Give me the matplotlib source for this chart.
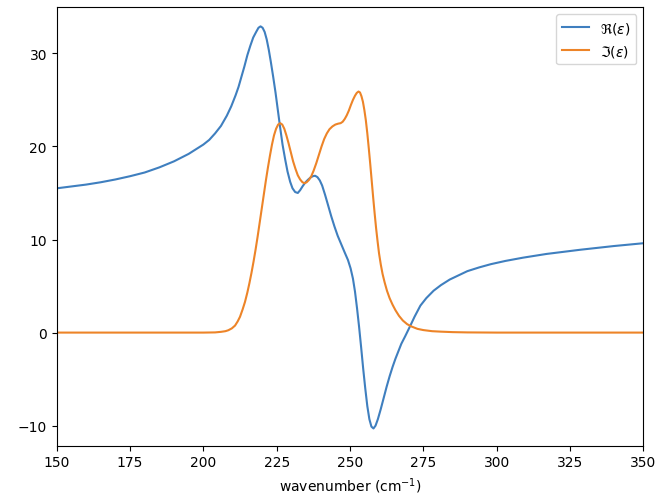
import matplotlib
matplotlib.use("Agg")
import matplotlib.pyplot as plt

re_pts = [
    (150, 15.5), (155, 15.7), (160, 15.9), (165, 16.15), (170, 16.45),
    (175, 16.8), (180, 17.2), (185, 17.75), (190, 18.4), (195, 19.2),
    (200, 20.2), (202, 20.7), (204, 21.4), (206, 22.2), (208, 23.3),
    (209.5, 24.3), (211, 25.5), (212, 26.4), (213, 27.5), (214, 28.6),
    (215, 29.8), (216, 30.8), (217, 31.7), (218, 32.3), (218.8, 32.75),
    (219.5, 32.9), (220.2, 32.75), (220.9, 32.3), (221.6, 31.5), (222.3, 30.4),
    (223, 29.1), (223.8, 27.5), (224.6, 25.8), (225.4, 23.9), (226.2, 22.0),
    (227, 20.2), (227.9, 18.6), (228.7, 17.3), (229.6, 16.2), (230.4, 15.5),
    (231.3, 15.1), (232.2, 15.0), (233, 15.3), (233.8, 15.7), (234.7, 16.1),
    (235.6, 16.4), (236.5, 16.65), (237.3, 16.8), (238.1, 16.85), (238.9, 16.7),
    (239.7, 16.35), (240.5, 15.8), (241.5, 14.8), (242.6, 13.6), (243.6, 12.5),
    (244.7, 11.4), (245.8, 10.4), (247, 9.5), (248.2, 8.6), (249.3, 7.8),
    (250.2, 6.9), (251, 5.8), (251.7, 4.4), (252.4, 2.6), (253.1, 0.6),
    (253.8, -1.6), (254.5, -3.9), (255.2, -6.0), (255.9, -7.9), (256.6, -9.3),
    (257.3, -10.1), (258, -10.3), (258.7, -10.0), (259.5, -9.3), (260.5, -8.2),
    (261.5, -7.0), (262.5, -5.8), (263.5, -4.7), (264.5, -3.7), (265.5, -2.8),
    (266.5, -2.0), (267.5, -1.2), (268.8, -0.4), (270.5, 0.7), (272, 1.7),
    (274, 2.9), (276, 3.7), (278.5, 4.5), (281, 5.1), (284, 5.7),
    (287, 6.15), (290, 6.6), (294, 7.0), (298, 7.35), (303, 7.7),
    (309, 8.05), (317, 8.45), (328.5, 8.9), (340, 9.3), (350, 9.6),
]

# imaginary part
im_pts = [
    (150, 0), (180, 0), (200, 0), (204, 0.02), (206, 0.08), (207.5, 0.15),
    (208.5, 0.25), (209.7, 0.45), (210.8, 0.75), (211.7, 1.2), (212.5, 1.7),
    (213.4, 2.5), (214.2, 3.3), (215, 4.3), (215.7, 5.3), (216.4, 6.4),
    (217.1, 7.6), (217.8, 8.9), (218.5, 10.3), (219.2, 11.8), (219.9, 13.3),
    (220.6, 14.8), (221.3, 16.3), (222, 17.7), (222.7, 19.0), (223.4, 20.2),
    (224.1, 21.2), (224.8, 21.9), (225.5, 22.35), (226.2, 22.5), (226.9, 22.35),
    (227.6, 21.9), (228.3, 21.2), (229, 20.4), (229.8, 19.4), (230.6, 18.4),
    (231.4, 17.6), (232.2, 16.9), (233, 16.45), (233.8, 16.15), (234.5, 16.05),
    (235.2, 16.15), (236, 16.4), (236.8, 16.8), (237.6, 17.4), (238.5, 18.2),
    (239.4, 19.1), (240.3, 20.0), (241.2, 20.8), (242.1, 21.4), (243, 21.85),
    (244, 22.15), (245, 22.35), (246, 22.45), (246.8, 22.5), (247.5, 22.65),
    (248.2, 22.95), (248.9, 23.35), (249.6, 23.85), (250.3, 24.45), (251, 25.0),
    (251.7, 25.45), (252.3, 25.75), (252.9, 25.9), (253.4, 25.8), (253.9, 25.4),
    (254.4, 24.8), (254.9, 23.9), (255.4, 22.8), (255.9, 21.4), (256.4, 19.8),
    (256.9, 18.1), (257.4, 16.3), (257.9, 14.5), (258.4, 12.8), (258.9, 11.2),
    (259.4, 9.8), (259.9, 8.5), (260.5, 7.3), (261.1, 6.3), (261.8, 5.4),
    (262.6, 4.5), (263.5, 3.7), (264.5, 3.0), (265.5, 2.4), (266.7, 1.8),
    (268, 1.3), (269.5, 0.9), (271, 0.65), (273, 0.4), (275, 0.27),
    (278, 0.15), (281, 0.1), (285, 0.05), (290, 0.02), (300, 0), (350, 0),
]

re_x, re_y = zip(*re_pts)
im_x, im_y = zip(*im_pts)

fig = plt.figure(figsize=(6.56, 5.02), dpi=100)
ax = fig.add_subplot(111)
fig.subplots_adjust(left=0.0864, right=0.9807, bottom=0.1102, top=0.9835)

ax.plot(re_x, re_y, color='#3f7fbf', label=r'$\Re(\varepsilon)$')
ax.plot(im_x, im_y, color='#ed8428', label=r'$\Im(\varepsilon)$')

ax.set_xlim(150, 350)
ax.set_ylim(-12.15, 34.95)
ax.set_xlabel('wavenumber (cm$^{-1}$)')
ax.legend(loc='upper right')

fig.savefig('out.png', dpi=100)
